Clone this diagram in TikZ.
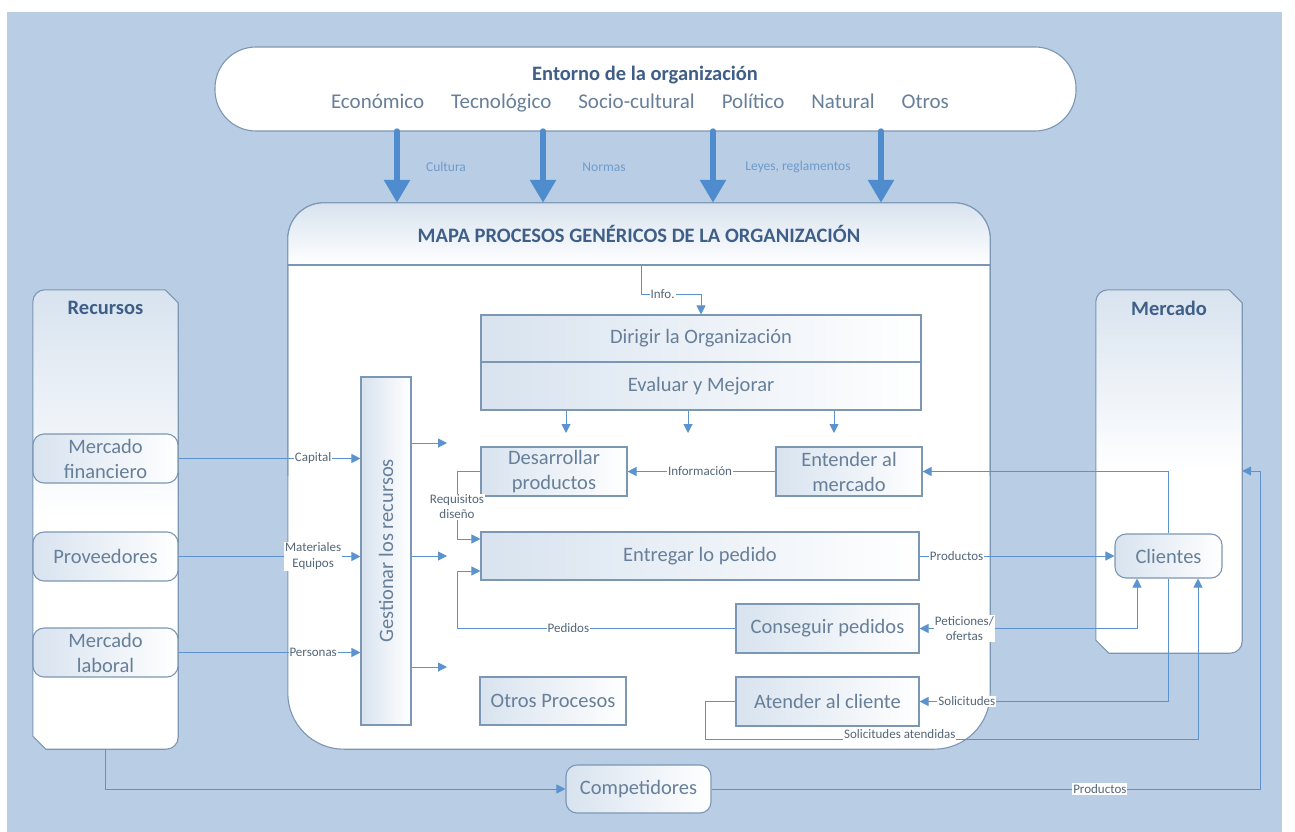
\documentclass[tikz,border=0pt]{standalone}
\usepackage{fontspec}
\usepackage{graphicx}
\setmainfont{Carlito}
\usetikzlibrary{arrows.meta,calc}
\definecolor{bgc}{HTML}{B9CDE5}
\definecolor{linec}{HTML}{5B93CF}
\definecolor{bigc}{HTML}{4F8CCD}
\definecolor{boxc}{HTML}{7B97B3}
\definecolor{txtc}{HTML}{677F99}
\definecolor{titc}{HTML}{3F5F88}
\definecolor{labc}{HTML}{546679}
\definecolor{envlab}{HTML}{6F9BCB}
\definecolor{shL}{HTML}{D8E3EF}
\tikzset{
  procbox/.style={draw=boxc, line width=1.1pt, left color=shL, right color=white,
    text=txtc, font=\fontsize{20.5}{25}\selectfont, align=center, inner sep=0pt, anchor=center},
  rbox/.style={procbox, rounded corners=11pt},
  lbl/.style={fill=white, text=labc, font=\fontsize{13}{15}\selectfont, inner sep=1pt, align=center},
  conn/.style={draw=linec, line width=1pt, -{Triangle[width=9pt,length=9pt]}},
  bigarrow/.style={draw=bigc, line width=6.5pt, line cap=round, -{Triangle[width=25pt,length=23pt]}},
  ttl/.style={text=titc, font=\bfseries\fontsize{20.5}{24}\selectfont},
  envl/.style={text=envlab, font=\fontsize{13.5}{15}\selectfont},
}
\begin{document}
\begin{tikzpicture}[x=1pt,y=-1pt]
\useasboundingbox (0,0) rectangle (1295,832);
\fill[white] (0,0) rectangle (1295,832);
\fill[bgc] (7,12) rectangle (1282,832);

% Entorno
\node[draw=boxc, line width=1.1pt, fill=white, rounded corners=41pt, minimum width=861pt, minimum height=84pt, anchor=center] (entorno) at (645.5,89) {};
\node[ttl, anchor=center] (entt) at (645,75) {Entorno de la organización};
\node[text=txtc, font=\fontsize{21}{24}\selectfont, anchor=center] (entitems) at (640,103)
  {Económico\hspace{27pt}Tecnológico\hspace{27pt}Socio-cultural\hspace{27pt}Político\hspace{27pt}Natural\hspace{27pt}Otros};

% MAPA
\node[minimum width=702pt, minimum height=546pt, anchor=center] (mapa) at (639,476) {};
\path[draw=boxc, line width=1.1pt, fill=white] (mapa.west) [rounded corners=36pt] -- (mapa.north west) -- (mapa.north east) -- (mapa.east) [rounded corners=56pt] -- (mapa.south east) -- (mapa.south west) -- cycle;
\begin{scope}
  \clip (mapa.west) [rounded corners=36pt] -- (mapa.north west) -- (mapa.north east) -- (mapa.east) -- (mapa.south east) -- (mapa.south west) -- cycle;
  \shade[top color=shL, bottom color=white] (288,203) rectangle (990,265);
\end{scope}
\path[draw=boxc, line width=1.1pt, rounded corners=36pt] (mapa.west) -- (mapa.north west) -- (mapa.north east) -- (mapa.east);
\draw[boxc, line width=1.1pt] (288,265) -- (990,265);
\node[ttl, anchor=center] (mapat) at (639,234) {MAPA PROCESOS GENÉRICOS DE LA ORGANIZACIÓN};

% big arrows
\draw[bigarrow] (entorno.south -| 397,0) -- (mapa.north -| 397,0);
\draw[bigarrow] (entorno.south -| 543,0) -- (mapa.north -| 543,0);
\draw[bigarrow] (entorno.south -| 713,0) -- (mapa.north -| 713,0);
\draw[bigarrow] (entorno.south -| 881,0) -- (mapa.north -| 881,0);
\node[envl] (lc) at (446,167) {Cultura};
\node[envl] (ln) at (604,167) {Normas};
\node[envl] (ll) at (798,167) {Leyes, reglamentos};

% Recursos / Mercado side boxes
\node[minimum width=145pt, minimum height=459pt, anchor=center] (rec) at (105.5,519.5) {};
\node[minimum width=146pt, minimum height=363pt, anchor=center] (merc) at (1169,471.5) {};
\foreach \b in {rec,merc}{
  \shade[draw=boxc, line width=1.1pt, top color=shL, bottom color=white, middle color=white]
    ([xshift=-13pt]\b.north east) -- ([yshift=-13pt]\b.north east)
    [rounded corners=12pt] -- (\b.south east) [sharp corners] -- ([xshift=13pt]\b.south west) -- ([yshift=13pt]\b.south west)
    [rounded corners=12pt] -- (\b.north west) [sharp corners] -- cycle;
}
\node[ttl, anchor=center] (rect) at (105.5,308) {Recursos};
\node[ttl, anchor=center] (merct) at (1169,308) {Mercado};

% Nodes
\node[rbox, minimum width=145pt, minimum height=49pt] (mf) at (105.5,458.5) {Mercado\\financiero};
\node[rbox, minimum width=145pt, minimum height=49pt] (prov) at (105.5,556.5) {Proveedores};
\node[rbox, minimum width=145pt, minimum height=49pt] (ml) at (105.5,652.5) {Mercado\\laboral};
\node[procbox, minimum width=50pt, minimum height=348pt] (gest) at (386,551) {\rotatebox{90}{Gestionar los recursos}};
\node[procbox, minimum width=440pt, minimum height=47pt] (dir) at (701,338.5) {Dirigir la Organización};
\node[procbox, minimum width=440pt, minimum height=48pt] (eva) at (701,386) {Evaluar y Mejorar};
\node[procbox, minimum width=146pt, minimum height=49pt] (des) at (554,471.5) {Desarrollar\\productos};
\node[procbox, minimum width=146pt, minimum height=49pt] (ent) at (849,471.5) {Entender al\\mercado};
\node[procbox, minimum width=438pt, minimum height=48pt] (entr) at (700,556) {Entregar lo pedido};
\node[procbox, minimum width=183pt, minimum height=49pt] (cons) at (827.5,628.5) {Conseguir pedidos};
\node[procbox, minimum width=183pt, minimum height=49pt] (aten) at (827.5,701.5) {Atender al cliente};
\node[procbox, minimum width=146pt, minimum height=48pt] (otros) at (553,701) {Otros Procesos};
\node[rbox, minimum width=107pt, minimum height=44pt] (cli) at (1168.5,556) {Clientes};
\node[rbox, minimum width=145pt, minimum height=48pt, fill=white] (comp) at (638.5,789) {Competidores};

% Resource inputs
\draw[conn] (mf.east) -- node[lbl, pos=0.74]{Capital} (gest.west |- mf.east);
\draw[conn] (prov.east) -- node[lbl, pos=0.74, font=\fontsize{13}{16}\selectfont]{Materiales\\Equipos} (gest.west |- prov.east);
\draw[conn] (ml.east) -- node[lbl, pos=0.74]{Personas} (gest.west |- ml.east);

% outputs of gestionar
\coordinate (g1) at (447,443);
\coordinate (g2) at (447,556);
\coordinate (g3) at (447,667);
\draw[conn] (gest.east |- g1) -- (g1);
\draw[conn] (gest.east |- g2) -- (g2);
\draw[conn] (gest.east |- g3) -- (g3);

% Info
\coordinate (infoS) at (641,265);
\draw[conn] (infoS) |- node[lbl, pos=0.68]{Info.} ($(dir.north)+(0,-20)$) -- (dir.north);

% down arrows
\coordinate (d1) at (566,433);
\coordinate (d2) at (688,433);
\coordinate (d3) at (834,433);
\draw[conn] (eva.south -| d1) -- (d1);
\draw[conn] (eva.south -| d2) -- (d2);
\draw[conn] (eva.south -| d3) -- (d3);

% internal flows
\draw[conn] (ent.west) -- node[lbl, pos=0.51]{Información} (des.east);
\coordinate (rq) at (457,539);
\draw[conn] (des.west) -| node[lbl, pos=0.76]{Requisitos\\diseño} (rq) -- (entr.west |- rq);
\coordinate (pd) at (457,571);
\draw[conn] (cons.west) -| node[lbl, pos=0.3]{Pedidos} (pd) -- (entr.west |- pd);

% market flows
\draw[conn] (entr.east) -- node[lbl, pos=0.19]{Productos} (cli.west);
\draw[conn] (cli.north) |- (ent.east);
\draw[conn] (cli.south) |- node[lbl, pos=0.905]{Solicitudes} (aten.east);
\draw[conn, {Triangle[width=9pt,length=9pt]}-{Triangle[width=9pt,length=9pt]}] (cons.east) -| node[lbl, pos=0.103]{Peticiones/\\ofertas} ([xshift=-31.5pt]cli.south);
\coordinate (sa1) at (705,739);
\coordinate (sa2) at (1198,739);
\draw[conn] (aten.west) -| (sa1) -- node[lbl, pos=0.395, yshift=5pt]{Solicitudes atendidas} (sa2) -- (sa2 |- cli.south);

% competitors
\draw[conn] (rec.south) |- (comp.west);
\coordinate (pr) at (1260,471);
\draw[conn] (comp.east) -| node[lbl, pos=0.354]{Productos} (pr) -- (merc.east |- pr);
\end{tikzpicture}
\end{document}
